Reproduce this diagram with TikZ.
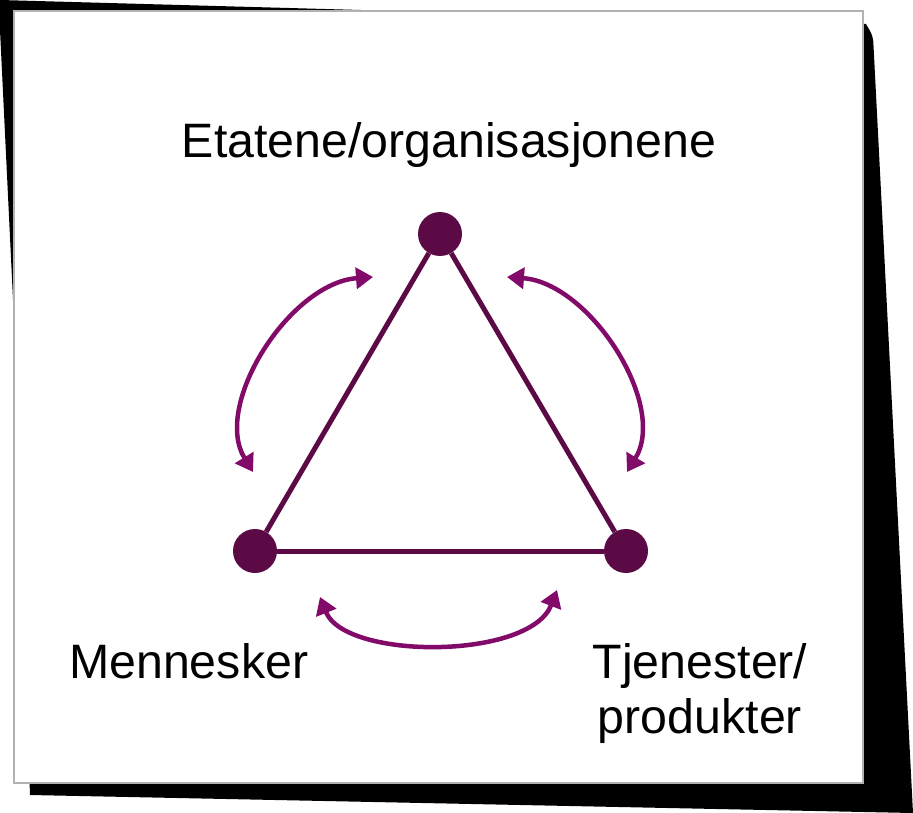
\documentclass[tikz,border=0pt]{standalone}
\usepackage{fontspec}
\setmainfont{Liberation Sans}
\usetikzlibrary{arrows.meta}
\definecolor{plum}{HTML}{5C0A45}
\definecolor{flowplum}{HTML}{820A69}
\begin{document}
\begin{tikzpicture}[x=1pt,y=-1pt,
  vertex/.style={circle,fill=plum,minimum size=44pt,inner sep=0pt},
  edge/.style={draw=plum,line width=5pt},
  flow/.style={draw=flowplum,line width=4.5pt,
    {Triangle[length=17pt,width=21pt]}-{Triangle[length=17pt,width=21pt]}},
  textlabel/.style={font=\fontsize{48.3}{55}\selectfont,text=black,inner sep=0pt}]
\useasboundingbox (0,0) rectangle (913,813);
% drop shadow behind the card
\fill[black] (0,0) -- (866,24) [rounded corners=6pt] -- (873,36) [sharp corners] -- (913,813)
  -- (30,795) -- (14,320) [rounded corners=6pt] -- (0,30) [sharp corners] -- cycle;
% card
\filldraw[fill=white,draw=gray!60,line width=2.5pt] (14,11) rectangle (863,783);
% triangle corners
\node[vertex] (top) at (440,234) {};
\node[vertex] (left) at (255,551) {};
\node[vertex] (right) at (626,551) {};
\draw[edge] (top) -- (left);
\draw[edge] (top) -- (right);
\draw[edge] (left) -- (right);
% two-way arrows between the corners
\coordinate (lA) at (253,472);
\coordinate (lB) at (373,277);
\coordinate (rA) at (627,472);
\coordinate (rB) at (507,277);
\coordinate (bA) at (320,597);
\coordinate (bB) at (557,590);
\draw[flow] (lA) .. controls (212,405) and (290,283) .. (lB);
\draw[flow] (rA) .. controls (668,405) and (590,283) .. (rB);
\draw[flow] (bA) .. controls (345,660) and (530,660) .. (bB);
% labels
\node[textlabel,anchor=base] (org) at (449,158) {Etatene/organisasjonene};
\node[textlabel,anchor=base west] (people) at (69,678) {Mennesker};
\node[textlabel,anchor=base,align=center] (services) at (700,733) {Tjenester/\\produkter};
\end{tikzpicture}
\end{document}
